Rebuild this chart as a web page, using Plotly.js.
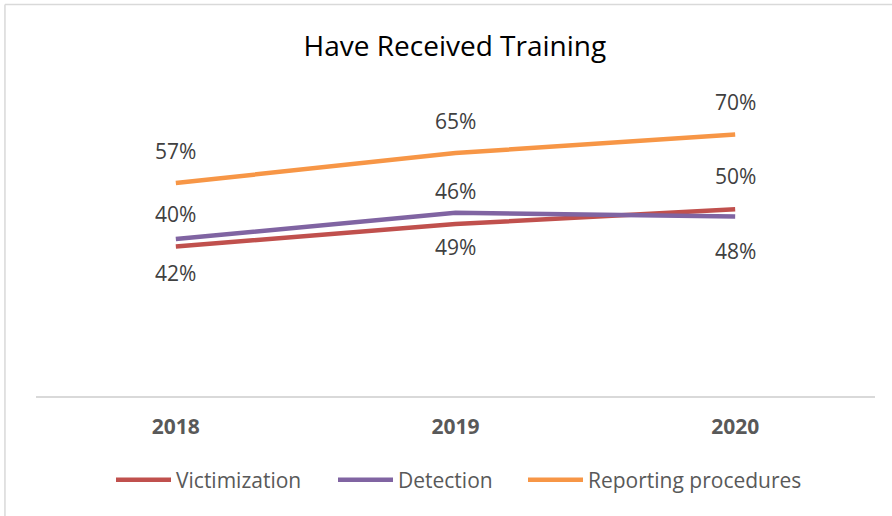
<!DOCTYPE html>
<html>
<head>
<meta charset="utf-8">
<script src="https://cdn.plot.ly/plotly-3.0.1.min.js"></script>
<style>
  html, body { margin: 0; padding: 0; background: #ffffff; }
  #chart { width: 892px; height: 516px; }
</style>
</head>
<body>
<div id="chart"></div>
<script>
// ---- data ----
const years = ['2018', '2019', '2020'];
const victimization = [0.40, 0.46, 0.50];
const detection = [0.42, 0.49, 0.48];
const reporting = [0.57, 0.65, 0.70];
const seriesNames = ['Victimization', 'Detection', 'Reporting procedures'];

// ---- styling ----
const colors = ['#C0504D', '#8064A2', '#F79646'];
const labelShift = [33, -34, 32]; // label above / below each series
const legendIds = ['legend', 'legend2', 'legend3'];
const legendLeftPx = [111, 333, 523];
const FONT = '"Open Sans", "Liberation Sans", sans-serif';
const PLOT_L = 36, PLOT_W = 839;

const seriesValues = [victimization, detection, reporting];

const traces = seriesValues.map((vals, i) => ({
  type: 'scatter',
  mode: 'lines',
  name: seriesNames[i],
  legend: legendIds[i],
  x: years,
  y: vals,
  line: { color: colors[i], width: 4.5 },
  hoverinfo: 'skip'
}));

const annotations = [];
seriesValues.forEach((vals, i) => {
  vals.forEach((v, j) => {
    annotations.push({
      x: j, y: v, xref: 'x', yref: 'y',
      text: Math.round(v * 100) + '%',
      showarrow: false,
      yshift: labelShift[i],
      xanchor: 'center', yanchor: 'middle',
      font: { family: FONT, size: 21, color: '#404040' }
    });
  });
});

const layout = {
  width: 892, height: 516,
  margin: { l: PLOT_L, r: 17, t: 97, b: 120 },
  paper_bgcolor: '#ffffff', plot_bgcolor: '#ffffff',
  title: {
    text: 'Have Received Training',
    x: 0.51, xref: 'container', xanchor: 'center',
    y: 0.911, yref: 'container', yanchor: 'middle',
    font: { family: FONT, size: 28, color: '#000000' }
  },
  xaxis: {
    type: 'category',
    range: [-0.5, 2.5],
    showgrid: false, zeroline: false,
    showline: true, linecolor: '#D9D9D9', linewidth: 1.5,
    ticks: 'outside', ticklen: 11, tickcolor: 'rgba(0,0,0,0)',
    tickfont: { family: FONT, size: 21, color: '#595959', weight: 'bold' },
    fixedrange: true
  },
  yaxis: {
    range: [0, 0.8], visible: false, fixedrange: true
  },
  showlegend: true,
  shapes: [
    { type: 'line', xref: 'paper', yref: 'paper',
      x0: -0.037, x1: -0.037, y0: -0.5, y1: 1.3094,
      line: { color: '#D9D9D9', width: 1.5 } },
    { type: 'line', xref: 'paper', yref: 'paper',
      x0: -0.037, x1: 1.1, y0: 1.3094, y1: 1.3094,
      line: { color: '#D9D9D9', width: 1.5 } }
  ],
  annotations: annotations
};

legendIds.forEach((id, i) => {
  layout[id] = {
    orientation: 'h',
    x: (legendLeftPx[i] - PLOT_L) / PLOT_W, xanchor: 'left',
    y: -0.281, yanchor: 'middle',
    itemwidth: 55,
    font: { family: FONT, size: 21, color: '#595959' },
    bgcolor: 'rgba(0,0,0,0)'
  };
});

Plotly.newPlot('chart', traces, layout, { displayModeBar: false, staticPlot: true });
</script>
</body>
</html>
